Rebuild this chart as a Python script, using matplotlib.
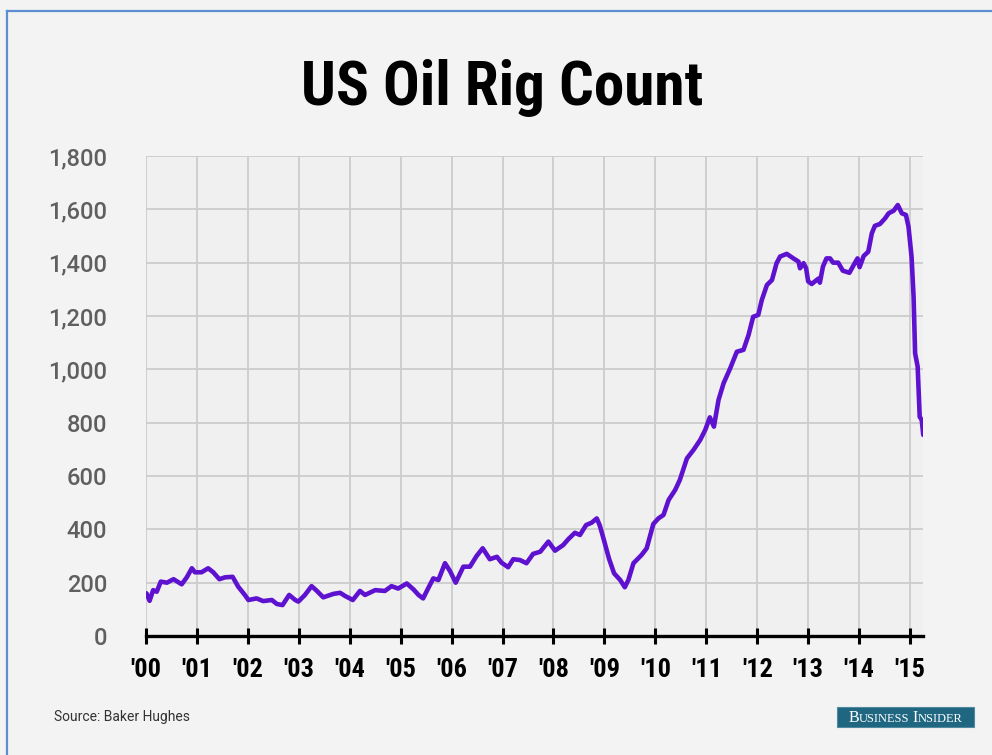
"""US oil rig count, 2000-2015, in the Business Insider chart style."""

import matplotlib

matplotlib.use("Agg")

import matplotlib.pyplot as plt  # noqa: E402
from matplotlib import font_manager  # noqa: E402
from matplotlib.patches import Rectangle  # noqa: E402
from matplotlib.lines import Line2D  # noqa: E402

# Weekly series (fractional year, rigs).
years = [
    2000.01, 2000.07, 2000.14, 2000.21, 2000.29, 2000.41, 2000.54, 2000.70,
    2000.80, 2000.90, 2000.96, 2001.09, 2001.22, 2001.32, 2001.44, 2001.55,
    2001.70, 2001.81, 2001.94, 2002.01, 2002.17, 2002.30, 2002.47, 2002.57,
    2002.68, 2002.81, 2002.93, 2002.99, 2003.12, 2003.25, 2003.35, 2003.48,
    2003.68, 2003.81, 2003.91, 2004.06, 2004.20, 2004.30, 2004.50, 2004.69,
    2004.82, 2004.95, 2005.12, 2005.25, 2005.35, 2005.44, 2005.54, 2005.64,
    2005.74, 2005.87, 2005.97, 2006.08, 2006.23, 2006.36, 2006.49, 2006.61,
    2006.75, 2006.89, 2006.98, 2007.11, 2007.21, 2007.34, 2007.47, 2007.60,
    2007.74, 2007.90, 2008.03, 2008.19, 2008.29, 2008.42, 2008.52, 2008.64,
    2008.75, 2008.85, 2008.91, 2008.99, 2009.09, 2009.19, 2009.31, 2009.40,
    2009.47, 2009.57, 2009.73, 2009.83, 2009.96, 2010.06, 2010.16, 2010.26,
    2010.39, 2010.48, 2010.62, 2010.75, 2010.88, 2010.98, 2011.07, 2011.15,
    2011.24, 2011.34, 2011.47, 2011.60, 2011.73, 2011.83, 2011.92, 2012.02,
    2012.09, 2012.19, 2012.29, 2012.38, 2012.45, 2012.58, 2012.71, 2012.81,
    2012.84, 2012.91, 2012.96, 2013.00, 2013.07, 2013.20, 2013.23, 2013.29,
    2013.36, 2013.43, 2013.49, 2013.59, 2013.68, 2013.81, 2013.92, 2013.97,
    2014.01, 2014.09, 2014.18, 2014.25, 2014.31, 2014.41, 2014.51, 2014.58,
    2014.68, 2014.76, 2014.84, 2014.92, 2014.97, 2015.03, 2015.07, 2015.10,
    2015.15, 2015.19, 2015.23, 2015.26,
]
rigs = [
    160, 132, 172, 166, 204, 200, 213, 194,
    220, 254, 239, 239, 254, 239, 213, 220,
    222, 185, 154, 135, 141, 131, 135, 120,
    116, 154, 135, 129, 154, 187, 170, 145,
    158, 162, 150, 135, 169, 154, 172, 169,
    187, 178, 197, 175, 154, 141, 179, 216,
    210, 273, 243, 200, 260, 260, 300, 329,
    288, 297, 275, 258, 288, 285, 273, 308,
    316, 354, 320, 341, 363, 387, 379, 416,
    425, 441, 414, 360, 290, 235, 210, 183,
    210, 273, 304, 329, 420, 441, 454, 510,
    548, 585, 666, 698, 735, 773, 820, 785,
    885, 948, 1004, 1066, 1073, 1129, 1197, 1204,
    1260, 1316, 1335, 1398, 1423, 1433, 1416, 1404,
    1379, 1398, 1379, 1330, 1320, 1340, 1325, 1385,
    1416, 1416, 1400, 1400, 1370, 1362, 1400, 1416,
    1383, 1425, 1441, 1510, 1538, 1545, 1566, 1585,
    1595, 1616, 1585, 1579, 1535, 1423, 1272, 1060,
    1010, 822, 810, 754,
]

tick_years = list(range(2000, 2016))
tick_labels = [f"'{y % 100:02d}" for y in tick_years]
y_ticks = list(range(0, 2000, 200))

TITLE = "US Oil Rig Count"
SOURCE = "Source: Baker Hughes"
LINE_COLOR = "#5e12cf"


def pick_font(*names):
    installed = {f.name for f in font_manager.fontManager.ttflist}
    for name in names:
        if name in installed:
            return name
    return "DejaVu Sans"


narrow = pick_font("Liberation Sans Narrow", "Roboto Condensed", "DejaVu Sans")
plain = pick_font("Roboto", "Liberation Sans", "DejaVu Sans")
serif = pick_font("Liberation Serif", "DejaVu Serif")

fig = plt.figure(figsize=(9.92, 7.55), dpi=100)
fig.patch.set_facecolor("#f3f3f3")
ax = fig.add_axes([0.1472, 0.1576, 0.7833, 0.6358])
ax.set_facecolor("#f0f0f0")

ax.plot(years, rigs, color=LINE_COLOR, linewidth=3.3,
        solid_joinstyle="round", solid_capstyle="round", zorder=3)

ax.set_xlim(2000, 2015.256)
ax.set_ylim(0, 1800)

ax.set_xticks(tick_years)
ax.set_xticklabels(tick_labels, fontfamily=narrow, fontweight="bold",
                   fontsize=19, color="black")
ax.set_yticks(y_ticks)
ax.set_yticklabels([f"{v:,}" for v in y_ticks], fontfamily=plain,
                   fontweight=500, fontsize=17, color="#5f5f5f")

ax.grid(True, color="#cccccc", linewidth=1.3, zorder=0)
ax.set_axisbelow(True)
for side in ("top", "right", "left"):
    ax.spines[side].set_visible(False)
ax.spines["bottom"].set_color("black")
ax.spines["bottom"].set_linewidth(2.4)
ax.spines["bottom"].set_zorder(4)
ax.tick_params(axis="x", direction="inout", length=12, width=2.2,
               color="black", pad=10)
ax.tick_params(axis="y", length=0, pad=28)

fig.text(0.5066, 0.884, TITLE, ha="center", va="center",
         fontfamily=narrow, fontweight="bold", fontsize=44, color="black")
fig.text(0.0545, 0.050, SOURCE, ha="left", va="center",
         fontfamily=plain, fontsize=10, color="#333333")

# Business Insider badge, with the lettering set in small caps
fig.patches.append(Rectangle((0.8438, 0.0371), 0.1381, 0.0265,
                             transform=fig.transFigure, facecolor="#1f6681",
                             edgecolor="#4f8aa0", linewidth=0.8))
renderer = fig.canvas.get_renderer()
pieces = [("B", 11.5), ("USINESS", 8.9), (" ", 8.9), ("I", 11.5), ("NSIDER", 8.9)]
widths = []
for txt, size in pieces:
    probe = fig.text(0, 0, txt, fontfamily=serif, fontsize=size)
    widths.append(probe.get_window_extent(renderer).width / fig.bbox.width)
    probe.remove()
x = 0.9128 - sum(widths) / 2
for (txt, size), w in zip(pieces, widths):
    fig.text(x, 0.0443, txt, ha="left", va="baseline",
             fontfamily=serif, fontsize=size, color="white")
    x += w

# thin blue frame along the top and left edges
fig.lines.append(Line2D([0.0071, 0.0071], [0.0, 0.9854],
                        transform=fig.transFigure, color="#5b8fd0", linewidth=1.6))
fig.lines.append(Line2D([0.0071, 1.0], [0.9854, 0.9854],
                        transform=fig.transFigure, color="#5b8fd0", linewidth=1.6))

fig.savefig("out.png", dpi=100, facecolor=fig.get_facecolor())
plt.close(fig)
